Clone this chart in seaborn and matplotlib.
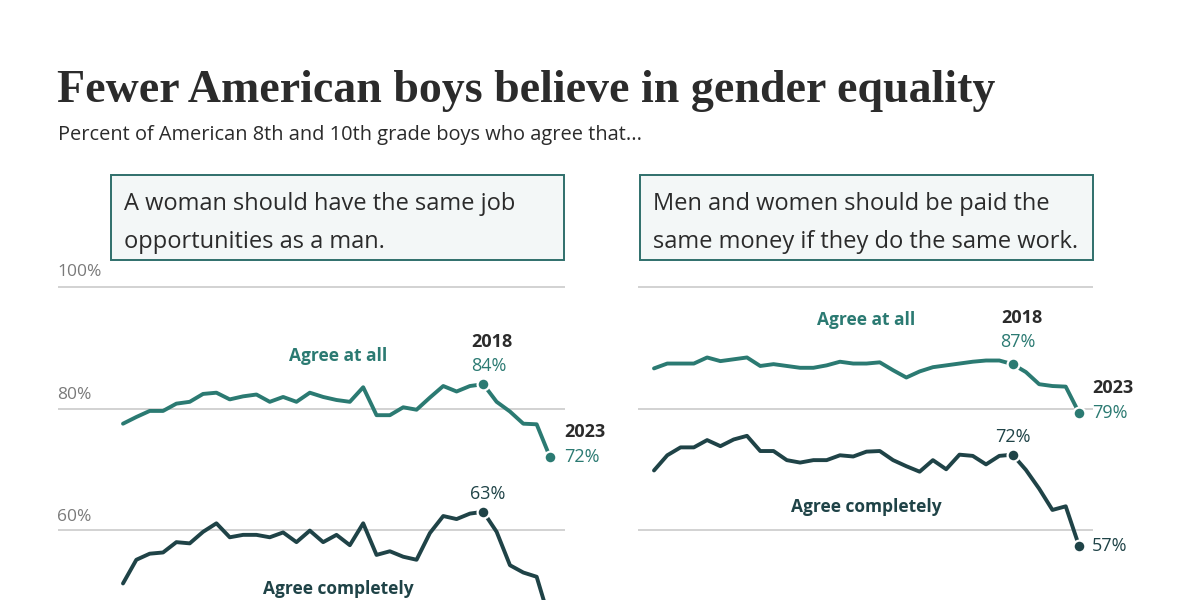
import numpy as np
import pandas as pd
import seaborn as sns
import matplotlib.pyplot as plt
from matplotlib.patches import Rectangle

# survey years (Monitoring the Future, 8th + 10th grade)
years = list(range(1991, 2024))

# "A woman should have the same job opportunities as a man."
job_at_all = [77.5, 78.6, 79.6, 79.6, 80.8, 81.1, 82.4, 82.6, 81.5, 82.0,
              82.3, 81.1, 81.9, 81.1, 82.6, 81.9, 81.4, 81.1, 83.5, 78.9,
              78.9, 80.2, 79.8, 81.8, 83.7, 82.8, 83.7, 84.0, 81.1, 79.5,
              77.5, 77.4, 72.0]
job_completely = [51.2, 55.1, 56.1, 56.3, 58.0, 57.8, 59.7, 61.1, 58.8, 59.2,
                  59.2, 58.8, 59.6, 58.0, 59.9, 58.0, 59.2, 57.5, 61.1, 55.9,
                  56.5, 55.6, 55.1, 59.5, 62.3, 61.8, 62.7, 63.0, 59.7, 54.2,
                  53.0, 52.3, 45.0]

# "Men and women should be paid the same money if they do the same work."
pay_at_all = [86.6, 87.4, 87.4, 87.4, 88.4, 87.8, 88.1, 88.4, 87.0, 87.3,
              87.0, 86.7, 86.7, 87.1, 87.7, 87.4, 87.4, 87.6, 86.3, 85.1,
              86.1, 86.8, 87.1, 87.4, 87.7, 87.9, 87.9, 87.3, 86.0, 84.0,
              83.7, 83.6, 79.3]
pay_completely = [69.8, 72.3, 73.6, 73.6, 74.8, 73.8, 74.9, 75.5, 73.0, 73.0,
                  71.5, 71.1, 71.5, 71.5, 72.3, 72.1, 72.9, 73.0, 71.5, 70.5,
                  69.6, 71.5, 70.0, 72.4, 72.2, 70.8, 72.2, 72.4, 69.9, 66.8,
                  63.3, 63.9, 57.4]

statements = ["A woman should have the same job\nopportunities as a man.",
              "Men and women should be paid the\nsame money if they do the same work."]

TEAL = "#2b7a72"
DARK = "#1f4347"
GRID = "#cfcfcf"
TXT = "#2b2b2b"

sns.set_style("white")
plt.rcParams["font.family"] = ["Open Sans", "DejaVu Sans"]

W, H = 1200, 600
fig = plt.figure(figsize=(12, 6), dpi=100)


def fx(px):
    return px / W


def fy(py):
    return 1 - py / H


# title block
fig.text(fx(57), fy(91), "Fewer American boys believe in gender equality",
         family="Liberation Serif", fontweight="bold", fontsize=33,
         color=TXT, va="center", ha="left")
fig.text(fx(58), fy(135), "Percent of American 8th and 10th grade boys who agree that...",
         fontsize=14.4, color=TXT, va="center", ha="left")

# statement boxes
for x0, txt in [(111, statements[0]), (640, statements[1])]:
    fig.patches.append(Rectangle((fx(x0), fy(260)), fx(453), 85 / H,
                                 transform=fig.transFigure, facecolor="#f3f7f7",
                                 edgecolor="#2f6f6b", linewidth=1.4))
    fig.text(fx(x0 + 13), fy(223), txt, fontsize=17, color=TXT,
             va="center", ha="left", linespacing=1.8)

# panels: (gridline left px, gridline right px, first-year px, last-year px)
panels = [
    (58, 565, 123, 550, job_at_all, job_completely),
    (638, 1093, 654, 1079, pay_at_all, pay_completely),
]

px_per_pct = (530 - 287) / 40.0
y_top, y_bot = 280, 600
ylim = (60 - (y_bot - 530) / px_per_pct, 100 + (287 - y_top) / px_per_pct)

axes = []
for i, (gl, gr, x1, x2, at_all, completely) in enumerate(panels):
    ax = fig.add_axes([fx(gl), fy(y_bot), fx(gr - gl), (y_bot - y_top) / H])
    ppy = (x2 - x1) / (years[-1] - years[0])
    ax.set_xlim(years[0] - (x1 - gl) / ppy, years[-1] + (gr - x2) / ppy)
    ax.set_ylim(*ylim)
    for v in [60, 80, 100]:
        ax.axhline(v, color=GRID, lw=1.3, zorder=0)

    df = pd.DataFrame({
        "year": years * 2,
        "value": at_all + completely,
        "series": ["Agree at all"] * len(years) + ["Agree completely"] * len(years),
    })
    sns.lineplot(data=df, x="year", y="value", hue="series",
                 palette={"Agree at all": TEAL, "Agree completely": DARK},
                 linewidth=2.8, legend=False, ax=ax, zorder=3)

    for series, col in [(at_all, TEAL), (completely, DARK)]:
        for yr in (2018, 2023):
            ax.plot(yr, series[years.index(yr)], "o", color=col, ms=8.5,
                    mec="white", mew=1.6, zorder=4)

    ax.axis("off")
    axes.append(ax)

# y labels on the left panel
for v, py in [(100, 272), (80, 395), (60, 517)]:
    fig.text(fx(57), fy(py), f"{v}%", fontsize=12.5, color="#7a7a7a",
             va="center", ha="left")


def note(ax, x, y, s, dx, dy, color, bold=False, ha="center"):
    ax.annotate(s, (x, y), xytext=(dx, dy), textcoords="offset pixels",
                ha=ha, va="center", color=color, fontsize=13,
                fontweight="bold" if bold else "normal", zorder=5)


i18, i23 = years.index(2018), years.index(2023)

# left panel annotations
ax = axes[0]
note(ax, 2018, job_at_all[i18], "2018", 9, 42, TXT, bold=True)
note(ax, 2018, job_at_all[i18], f"{round(job_at_all[i18])}%", 6, 18, TEAL)
note(ax, 2023, job_at_all[i23], "2023", 14, 25, TXT, bold=True, ha="left")
note(ax, 2023, job_at_all[i23], f"{round(job_at_all[i23])}%", 14, 0, TEAL, ha="left")
note(ax, 2018, job_completely[i18], f"{round(job_completely[i18])}%", 4, 18, DARK)
ax.text(2007.1, 88.6, "Agree at all", color=TEAL, fontsize=12.5,
        fontweight="bold", ha="center", va="center")
ax.text(2007.1, 50.3, "Agree completely", color=DARK, fontsize=12.5,
        fontweight="bold", ha="center", va="center")

# right panel annotations
ax = axes[1]
note(ax, 2018, pay_at_all[i18], "2018", 9, 46, TXT, bold=True)
note(ax, 2018, pay_at_all[i18], f"{round(pay_at_all[i18])}%", 5, 22, TEAL)
note(ax, 2023, pay_at_all[i23], "2023", 13, 25, TXT, bold=True, ha="left")
note(ax, 2023, pay_at_all[i23], f"{round(pay_at_all[i23])}%", 13, 0, TEAL, ha="left")
note(ax, 2018, pay_completely[i18], f"{round(pay_completely[i18])}%", 0, 18, DARK)
note(ax, 2023, pay_completely[i23], f"{round(pay_completely[i23])}%", 13, 0, DARK, ha="left")
ax.text(2006.97, 94.6, "Agree at all", color=TEAL, fontsize=12.5,
        fontweight="bold", ha="center", va="center")
ax.text(2006.97, 63.8, "Agree completely", color=DARK, fontsize=12.5,
        fontweight="bold", ha="center", va="center")

fig.savefig("out.png", dpi=100, facecolor="white")
